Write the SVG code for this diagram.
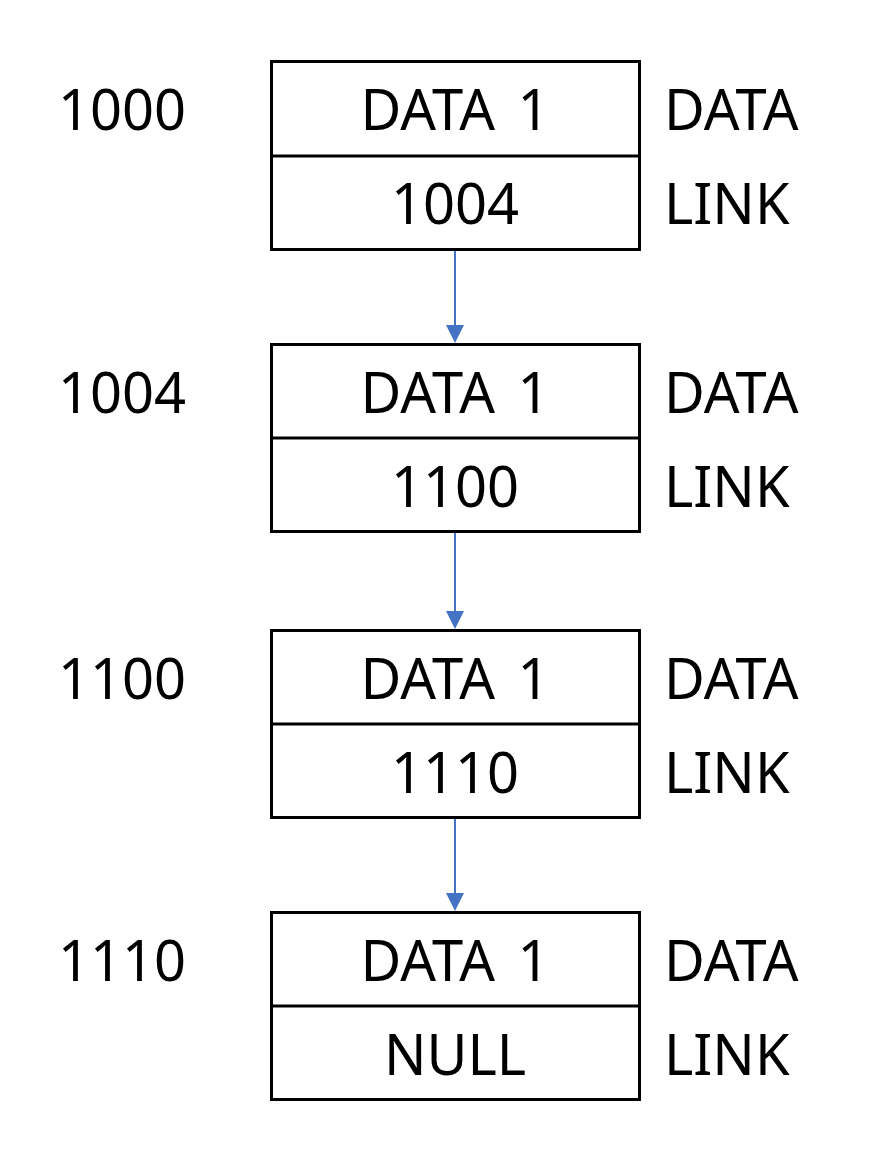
<svg xmlns="http://www.w3.org/2000/svg" width="893" height="1176" viewBox="0 0 893 1176">
<style>
.box{fill:#fff;stroke:#000;stroke-width:3}
.div{stroke:#000;stroke-width:3}
.t{font-family:"Noto Sans","Liberation Sans",sans-serif;font-size:56px;fill:#000}
.c{text-anchor:middle}
.w{word-spacing:8px}
.conn{stroke:#4472C4;stroke-width:2;fill:none}
.head{fill:#4472C4}
</style>
<rect width="893" height="1176" fill="#fff"/>
<g id="connectors">
<line class="conn" x1="455" y1="250" x2="455" y2="326"/>
<path class="head" d="M446,325 L464,325 L455,343 Z"/>
<line class="conn" x1="455" y1="532" x2="455" y2="612"/>
<path class="head" d="M446,611 L464,611 L455,629 Z"/>
<line class="conn" x1="455" y1="818" x2="455" y2="894"/>
<path class="head" d="M446,893 L464,893 L455,911 Z"/>
</g>
<g id="node1">
<rect class="box" x="271.5" y="61.5" width="368" height="188"/>
<line class="div" x1="271.5" y1="156" x2="639.5" y2="156"/>
<text class="t" x="58" y="130">1000</text>
<text class="t c w" x="455" y="130">DATA 1</text>
<text class="t c" x="455" y="224">1004</text>
<text class="t" x="664" y="130">DATA</text>
<text class="t" x="664" y="224">LINK</text>
</g>
<g id="node2">
<rect class="box" x="271.5" y="344.5" width="368" height="187"/>
<line class="div" x1="271.5" y1="438" x2="639.5" y2="438"/>
<text class="t" x="58" y="413">1004</text>
<text class="t c w" x="455" y="413">DATA 1</text>
<text class="t c" x="455" y="507">1100</text>
<text class="t" x="664" y="413">DATA</text>
<text class="t" x="664" y="507">LINK</text>
</g>
<g id="node3">
<rect class="box" x="271.5" y="630.5" width="368" height="187"/>
<line class="div" x1="271.5" y1="724" x2="639.5" y2="724"/>
<text class="t" x="58" y="699">1100</text>
<text class="t c w" x="455" y="699">DATA 1</text>
<text class="t c" x="455" y="793">1110</text>
<text class="t" x="664" y="699">DATA</text>
<text class="t" x="664" y="793">LINK</text>
</g>
<g id="node4">
<rect class="box" x="271.5" y="912.5" width="368" height="187"/>
<line class="div" x1="271.5" y1="1006" x2="639.5" y2="1006"/>
<text class="t" x="58" y="981">1110</text>
<text class="t c w" x="455" y="981">DATA 1</text>
<text class="t c" x="455" y="1075">NULL</text>
<text class="t" x="664" y="981">DATA</text>
<text class="t" x="664" y="1075">LINK</text>
</g>
</svg>
